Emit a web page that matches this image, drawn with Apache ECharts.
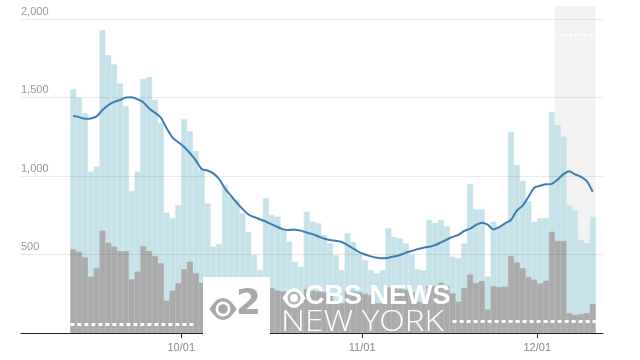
<!DOCTYPE html>
<html><head><meta charset="utf-8">
<script src="https://cdn.jsdelivr.net/npm/echarts@6/dist/echarts.min.js"></script>
<style>html,body{margin:0;padding:0;background:#fff}#c{width:640px;height:360px}</style>
</head><body><div id="c"></div>
<script>
const dates = [
'09/12','09/13','09/14','09/15','09/16','09/17','09/18','09/19','09/20','09/21',
'09/22','09/23','09/24','09/25','09/26','09/27','09/28','09/29','09/30','10/01',
'10/02','10/03','10/04','10/05','10/06','10/07','10/08','10/09','10/10','10/11',
'10/12','10/13','10/14','10/15','10/16','10/17','10/18','10/19','10/20','10/21',
'10/22','10/23','10/24','10/25','10/26','10/27','10/28','10/29','10/30','10/31',
'11/01','11/02','11/03','11/04','11/05','11/06','11/07','11/08','11/09','11/10',
'11/11','11/12','11/13','11/14','11/15','11/16','11/17','11/18','11/19','11/20',
'11/21','11/22','11/23','11/24','11/25','11/26','11/27','11/28','11/29','11/30',
'12/01','12/02','12/03','12/04','12/05','12/06','12/07','12/08','12/09','12/10'];
const totalValues = [
1554,1499,1400,1028,1060,1930,1770,1711,1590,1445,
904,1028,1618,1629,1486,1337,766,730,815,1361,
1285,1159,1040,826,550,567,943,870,850,762,
645,497,401,858,752,741,656,582,454,422,
773,709,699,624,571,497,401,635,582,508,
465,401,380,401,667,613,603,570,500,405,
400,720,700,720,680,486,476,571,950,788,
788,359,709,677,700,1282,1070,970,840,709,
730,730,1410,1325,1251,815,783,592,571,741];
const grayValues = [
533,518,482,359,412,652,575,550,522,522,
342,391,554,522,490,444,206,270,317,406,
454,380,320,330,250,270,330,320,310,300,
290,220,200,300,285,270,265,255,200,190,
280,270,265,260,250,200,190,270,265,260,
250,240,190,190,290,285,280,275,260,200,
190,300,300,320,300,253,200,285,372,318,
330,150,299,293,296,490,450,412,357,340,
315,333,645,586,586,127,115,121,126,185];
const avgValues = [
1384,1375,1365,1367,1380,1420,1452,1472,1484,1500,
1501,1489,1470,1430,1403,1372,1304,1245,1215,1185,
1145,1100,1045,1035,1017,980,920,875,830,790,
755,738,724,710,692,675,660,656,658,652,
640,630,615,600,592,587,580,560,537,515,
500,488,480,476,480,487,497,512,522,535,
543,550,560,577,595,612,625,650,665,688,
703,690,660,675,698,720,780,812,868,925,
938,947,950,977,1012,1030,1010,995,968,900];
const tickLabels = ['10/01','11/01','12/01'];
const yTicks = [500,1000,1500,2000];
const shadeFrom = '12/04';
const shadeTopValue = 2083;
const topDotValue = 1900;
const leftDotValue = 57, leftDotEnd = '10/03';
const rightDotValue = 78, rightDotStart = '11/16';

const pos = i => i + 0.5;
const tickPos = tickLabels.map(l => dates.indexOf(l));
const n = dates.length;
const shadeIdx = dates.indexOf(shadeFrom);

function lensPoints(cx, cy, w, h) {
  const pts = [];
  const steps = 16;
  for (let s = 0; s <= steps; s++) { const t = s/steps; const x = cx - w/2 + w*t; pts.push([x, cy - h*4*t*(1-t)]); }
  for (let s = steps-1; s > 0; s--) { const t = s/steps; const x = cx - w/2 + w*t; pts.push([x, cy + h*4*t*(1-t)]); }
  return pts;
}
const eye = (cx, cy, w, h, outer, ring, pupil, r1, r2) => ([
  {type:'polygon', shape:{points:lensPoints(cx,cy,w,h)}, style:{fill:outer}, z:100},
  {type:'circle', shape:{cx, cy, r:r1}, style:{fill:ring}, z:101},
  {type:'circle', shape:{cx, cy, r:r2}, style:{fill:pupil}, z:102}
]);

const blue = '#c6e3ea', gray = '#ababab';
const chart = echarts.init(document.getElementById('c'), null, {renderer:'canvas'});
chart.setOption({
  animation:false,
  grid:{left:21,right:37,top:6,bottom:27},
  xAxis:{type:'value', min:-8.46, max:91.27, z:5,
    axisLine:{show:true,onZero:false,lineStyle:{color:'#222',width:1}},
    splitLine:{show:false},
    axisTick:{show:true,customValues:tickPos,length:5,lineStyle:{color:'#222'}},
    axisLabel:{customValues:tickPos,formatter:v=>tickLabels[tickPos.indexOf(v)]||'',color:'#888',fontSize:11,margin:9,fontFamily:'Liberation Sans'}},
  yAxis:{type:'value',min:0,max:shadeTopValue,interval:yTicks[0],z:5,
    axisLine:{show:false},axisTick:{show:false},
    splitLine:{showMaxLine:false,lineStyle:{color:'rgba(0,0,0,0.08)',width:1}},
    axisLabel:{inside:true,showMinLabel:false,showMaxLabel:false,margin:0,verticalAlign:'bottom',padding:[0,0,2,0],
      formatter:v=>yTicks.includes(v)?v.toLocaleString('en-US'):'',color:'#999',fontSize:11,fontFamily:'Liberation Sans'}},
  series:[
    {type:'bar', data:totalValues.map((v,i)=>[pos(i),v]), barGap:'-100%', barCategoryGap:'0%',
      itemStyle:{color:blue,borderColor:blue,borderWidth:0.6}, z:2,
      markArea:{silent:true, z:1, itemStyle:{color:'#f2f2f2'},
        data:[[{xAxis:shadeIdx,yAxis:0},{xAxis:n,yAxis:shadeTopValue}]]},
      markLine:{silent:true, symbol:'none', label:{show:false},
        lineStyle:{color:'#fff',type:[2,3],width:2},
        data:[[{coord:[shadeIdx,topDotValue]},{coord:[n,topDotValue]}]]}},
    {type:'bar', data:grayValues.map((v,i)=>[pos(i),v]), barGap:'-100%', barCategoryGap:'0%',
      itemStyle:{color:gray,borderColor:gray,borderWidth:0.6}, z:3,
      markLine:{silent:true, symbol:'none', label:{show:false},
        lineStyle:{color:'#fff',type:[4,3],width:3},
        data:[[{coord:[0,leftDotValue]},{coord:[dates.indexOf(leftDotEnd)+0.5,leftDotValue]}],
              [{coord:[dates.indexOf(rightDotStart)+0.5,rightDotValue]},{coord:[n,rightDotValue]}]]}},
    {type:'line', data:avgValues.map((v,i)=>[pos(i),v]), showSymbol:false, smooth:0.25, z:4,
      lineStyle:{color:'#3d7db3',width:2}}
  ],
  graphic:[
    {type:'rect', shape:{x:203,y:277,width:67,height:57}, style:{fill:'#fff'}, z:99},
    ...eye(223,309,27,11,'#a9a9a9','#fff','#a9a9a9',7.5,4.8),
    {type:'text', z:100, style:{text:'2', x:236, y:323, fill:'#a9a9a9', font:'bold 36px "DejaVu Sans"', verticalAlign:'bottom'}},
    ...eye(294,298,23,10,'#fff','#b4b4b4','#fff',6.5,4),
    {type:'text', z:100, style:{text:'CBS NEWS', x:305, y:297, fill:'#fff', font:'bold 27px "Liberation Sans"', verticalAlign:'middle'}},
    {type:'text', z:100, x:281, y:322, scaleX:1.11, style:{text:'NEW YORK', x:0, y:0, fill:'#fff', font:'300 30px "Open Sans"', verticalAlign:'middle'}}
  ]
});
</script></body></html>
